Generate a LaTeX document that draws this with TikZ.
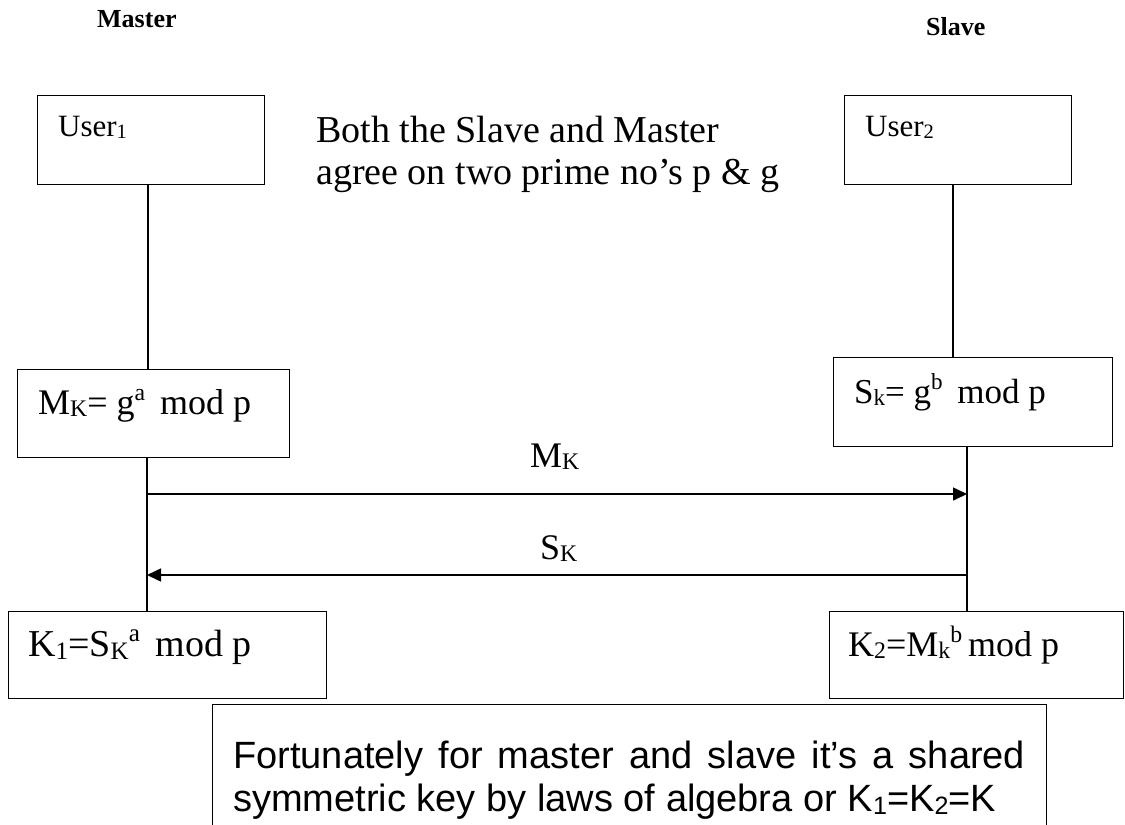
\documentclass[tikz,border=0pt]{standalone}
\usepackage{fontspec}
\usepackage{graphicx}
\setmainfont{Liberation Serif}
\setsansfont{Liberation Sans}
\usetikzlibrary{arrows.meta}
\setlength{\parindent}{0pt}
\newcommand\dnx[1]{\raisebox{-0.08em}{\scalebox{0.66}{#1}}}
\newcommand\upx[1]{\raisebox{0.38em}{\scalebox{0.66}{#1}}}
\begin{document}
\begin{tikzpicture}[x=1pt,y=-1pt,
  box/.style={draw,line width=1.4pt,inner sep=0pt,anchor=north west},
  txt/.style={inner sep=0pt,anchor=base west},
  life/.style={line width=1.3pt},
  msg/.style={line width=1.5pt,-{Triangle[length=14pt,width=13pt]}},
  role/.style={txt,font=\bfseries\fontsize{26}{30}\selectfont},
  usr/.style={txt,font=\fontsize{31}{36}\selectfont}]
\clip (0,0) rectangle (1125,825);
\fill[white] (0,0) rectangle (1125,825);
% roles
\node[role] (master) at (97,27) {Master};
\node[role] (slave) at (926,35) {Slave};
% user boxes
\node[box,minimum width=227pt,minimum height=89pt] (u1) at (37,95) {};
\node[usr] (u1t) at (58,136) {User\dnx{1}};
\node[box,minimum width=227pt,minimum height=89pt] (u2) at (844,95) {};
\node[usr] (u2t) at (865,136) {User\dnx{2}};
% agreement text
\node[inner sep=0pt,anchor=north west,align=left,font=\fontsize{38}{42}\selectfont] (agree) at (316,116)
  {Both the Slave and Master\\agree on two prime no’s p \& g};
% key boxes
\node[box,minimum width=272pt,minimum height=88pt] (mk) at (17,369) {};
\node[txt,font=\fontsize{36}{40}\selectfont] (mkt) at (38,414) {M\dnx{K}= g\upx{a}\, mod p};
\node[box,minimum width=279pt,minimum height=89pt] (sk) at (833,357) {};
\node[txt,font=\fontsize{35}{40}\selectfont] (skt) at (854,403) {S\dnx{k}= g\upx{b}\, mod p};
\node[box,minimum width=318pt,minimum height=87pt] (k1) at (8,611) {};
\node[txt,font=\fontsize{38}{42}\selectfont] (k1t) at (28,656) {K\dnx{1}=S\dnx{K}\upx{a}\, mod p};
\node[box,minimum width=294pt,minimum height=87pt] (k2) at (829,611) {};
\node[txt,font=\fontsize{36}{40}\selectfont] (k2t) at (848,656) {K\dnx{2}=M\dnx{k}\upx{b}\,mod p};
% lifelines
\coordinate (L1) at (148,0);
\coordinate (L2) at (147,0);
\coordinate (R1) at (953,0);
\coordinate (R2) at (967,0);
\draw[life] (u1.south -| L1) -- (mk.north -| L1);
\draw[life] (mk.south -| L2) -- (k1.north -| L2);
\draw[life] (u2.south -| R1) -- (sk.north -| R1);
\draw[life] (sk.south -| R2) -- (k2.north -| R2);
% messages
\coordinate (m1) at (0,494);
\coordinate (m2) at (0,575);
\draw[msg] (m1 -| L2) -- (m1 -| R2);
\draw[msg] (m2 -| R2) -- (m2 -| L2);
\node[txt,font=\fontsize{36}{40}\selectfont] (mkl) at (530,467) {M\dnx{K}};
\node[txt,font=\fontsize{36}{40}\selectfont] (skl) at (540,559) {S\dnx{K}};
% conclusion
\node[box,minimum width=834pt,minimum height=140pt] (nb) at (212,704) {};
\node[inner sep=0pt,anchor=north west,text width=792pt,align=justify,
  font=\sffamily\fontsize{38}{43}\selectfont] (note) at (233,741)
  {Fortunately for master and slave it’s a shared symmetric key by laws of algebra or K\dnx{1}=K\dnx{2}=K};
\end{tikzpicture}
\end{document}
